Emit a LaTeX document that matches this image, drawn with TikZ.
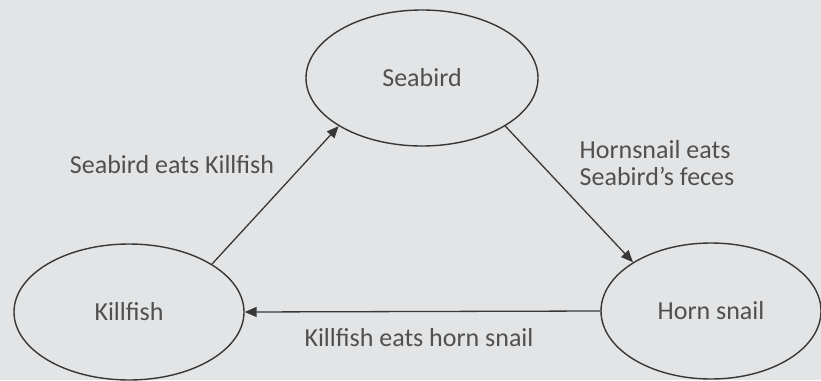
\documentclass[tikz,border=0pt]{standalone}
\usepackage{fontspec}
\setmainfont{Carlito}
\usetikzlibrary{arrows.meta, positioning, shapes.geometric}
\definecolor{bgrey}{RGB}{226,228,230}
\definecolor{tgrey}{RGB}{80,80,80}
\definecolor{lgrey}{RGB}{55,55,55}

\begin{document}
\begin{tikzpicture}[x=1pt, y=-1pt, >={Triangle[length=12pt,width=10pt]},
  every node/.style={text=tgrey, font=\fontsize{26}{27}\selectfont},
  animal/.style={draw=lgrey, line width=1.4pt, ellipse, minimum height=136pt, inner sep=0pt},
  eats/.style={draw=lgrey, line width=1.3pt, ->}]
  \fill[bgrey] (0,0) rectangle (821,380);
  \useasboundingbox (0,0) rectangle (821,380);

  \node (bird) [animal, minimum width=232pt] at (422,78) {Seabird};
  \node (fish) [animal, minimum width=230pt] at (129,312) {Killfish};
  \node (snail) [animal, minimum width=220pt] at (711,311) {Horn snail};

  \draw[eats] (fish.30) -- (bird.210);
  \draw[eats] (bird.-30) -- (snail.148);
  \draw[eats] (snail.west) -- (fish.east);

  \node (eats1) at (172,165) {Seabird eats Killfish};
  \node (eats2) [align=left] at (657,163) {Hornsnail eats\\Seabird's feces};
  \node (eats3) at (419,338) {Killfish eats horn snail};
\end{tikzpicture}
\end{document}
